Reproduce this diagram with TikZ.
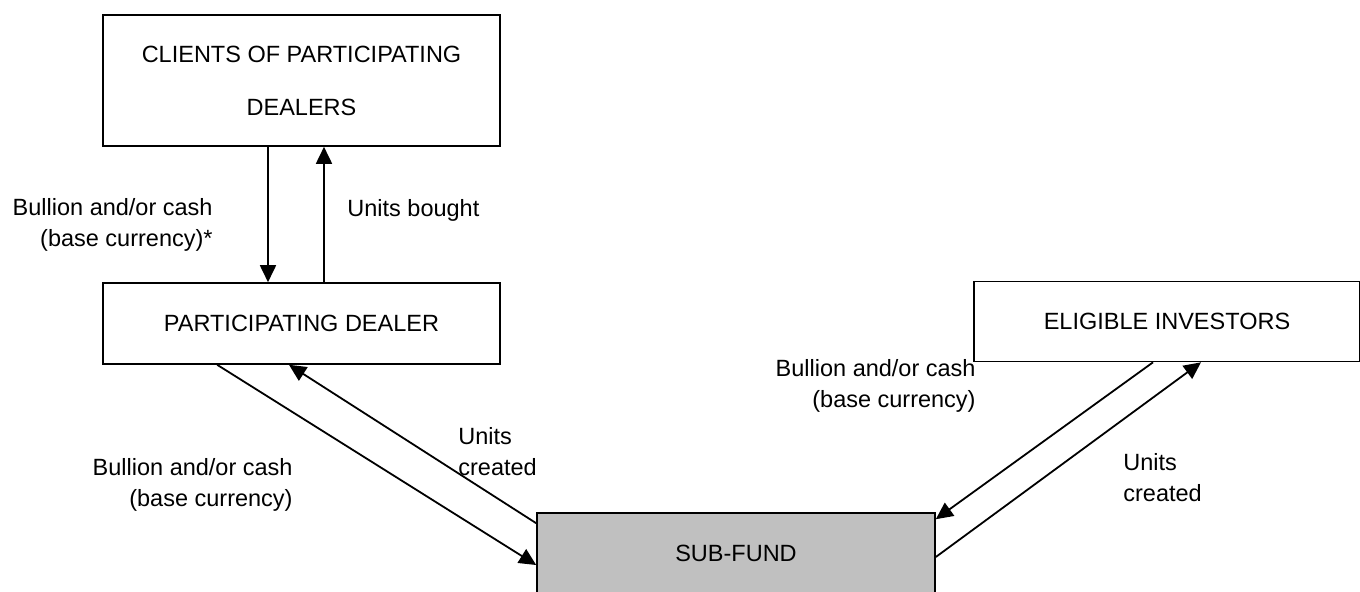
\documentclass[tikz,border=0pt]{standalone}
\usepackage{fontspec}
\setmainfont{Liberation Sans}
\usepackage{tikz}
\usetikzlibrary{positioning}
\usetikzlibrary{arrows.meta}
\definecolor{fundgray}{RGB}{192,192,192}

\begin{document}
\begin{tikzpicture}[x=0.5pt,y=-0.5pt,node distance=121.5pt,on grid,>={Triangle[length=8.5pt,width=8pt]},
		box/.style={rectangle,draw=black,line width=0.8pt,minimum width=198.5pt,align=center,inner sep=0pt,font=\fontsize{11.75}{15.5}\selectfont},
		lbl/.style={inner sep=0pt,font=\fontsize{11.75}{15.5}\selectfont},
		flow/.style={->,line width=0.9pt}]
		\useasboundingbox (0,0) rectangle (1360,591);
		
		\node[box,minimum height=65.5pt] (clients) at (301.5,80.5) {CLIENTS OF PARTICIPATING\\[11pt]DEALERS};
		\node[box,minimum height=40.5pt] (dealer)  [below=of clients] {PARTICIPATING DEALER};
		\node[box,minimum width=193pt,minimum height=40pt] (investors) at (1167,321.5) {ELIGIBLE INVESTORS};
		\node[box,fill=fundgray,minimum width=199pt,minimum height=40pt] (subfund) at (736,553) {SUB-FUND};
		
		\node[lbl,anchor=east,align=right] (cashA)  at (213,225) {Bullion and/or cash\\(base currency)*};
		\node[lbl,anchor=west]             (bought) at (347,210) {Units bought};
		\node[lbl,anchor=east,align=right] (cashB)  at (293,485) {Bullion and/or cash\\(base currency)};
		\node[lbl,anchor=west,align=left]  (createdA) at (458,452) {Units\\created};
		\node[lbl,anchor=east,align=right] (cashC)  at (976,386) {Bullion and/or cash\\(base currency)};
		\node[lbl,anchor=west,align=left]  (createdB) at (1123,478) {Units\\created};
		
		\path[flow]
		([xshift=-16.75pt]clients.south) edge ([xshift=-16.75pt]dealer.north)
		([xshift=11.25pt]dealer.north) edge ([xshift=11.25pt]clients.south)
		([xshift=57.5pt]dealer.south west) edge ([yshift=-6pt]subfund.west)
		([yshift=-5.5pt]subfund.north west) edge ([xshift=-6.25pt]dealer.south)
		([xshift=-7pt]investors.south) edge ([yshift=-3.5pt]subfund.north east)
		([yshift=-2pt]subfund.east) edge ([xshift=17pt]investors.south);
\end{tikzpicture}
\end{document}
